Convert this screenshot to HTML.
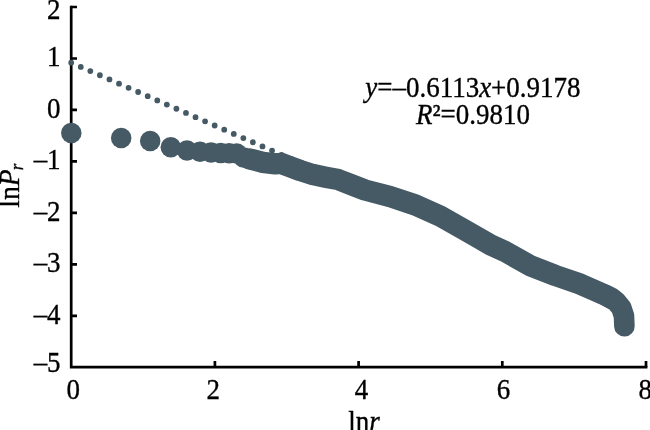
<!DOCTYPE html>
<html><head><meta charset="utf-8">
<style>
html,body{margin:0;padding:0;background:#fff;}
body{width:650px;height:430px;overflow:hidden;font-family:"Liberation Serif",serif;}
svg{display:block;will-change:transform}
text{font-family:"Liberation Serif",serif;fill:#000;stroke:#000;stroke-width:0.35px}
.i{font-style:italic}
</style></head><body>
<svg width="650" height="430" viewBox="0 0 650 430">
<rect width="650" height="430" fill="#fff"/>
<g stroke="#000" stroke-width="2.7" fill="none">
<path d="M71.2 5.7V367.2H647.4"/>
<path d="M71.2 7.0H77M71.2 58.5H77M71.2 109.9H77M71.2 161.4H77M71.2 212.8H77M71.2 264.3H77M71.2 315.8H77"/>
<path d="M214.9 367.2V361M358.6 367.2V361M502.3 367.2V361M646.0 367.2V361"/>
</g>
<line x1="71.2" y1="62.7" x2="308.3" y2="166.5" stroke="#455A64" stroke-width="5.8" stroke-linecap="round" stroke-dasharray="0 10.44"/>
<g fill="#455A64"><circle cx="71.3" cy="132.9" r="10.25"/><circle cx="121.2" cy="137.9" r="10.25"/><circle cx="150.2" cy="141" r="10.25"/><circle cx="170.8" cy="147.2" r="10.25"/><circle cx="187" cy="150.5" r="10.25"/><circle cx="200" cy="151.8" r="10.25"/><circle cx="211.1" cy="152.6" r="10.25"/><circle cx="220.7" cy="153.1" r="10.25"/><circle cx="229.2" cy="153.3" r="10.25"/><circle cx="236.7" cy="153.5" r="10.25"/><circle cx="243.6" cy="157.5" r="10.25"/><circle cx="249.8" cy="159" r="10.25"/></g>
<polyline fill="none" stroke="#455A64" stroke-width="21.4" stroke-linecap="round" stroke-linejoin="round" points="249.8,159 262.8,162.3 275.4,163.8 281,163.4 288,166 300.5,170.6 313,174.6 325.6,177.2 338.2,179.6 350.8,184.5 365,190 390.3,196.7 415.4,205 440.5,216.3 465.6,230.5 480,238.7 490.8,245 505.1,251.5 530.3,265.7 555.4,275.5 580.5,284.2 605.6,295.3 612,298.6"/>
<polyline fill="none" stroke="#455A64" stroke-width="20.6" stroke-linecap="round" stroke-linejoin="round" points="605.6,295.3 616,301.4 621.3,307.8 624.0,316 624.4,326.3"/>
<text transform="translate(60.6 18.8) scale(0.93 1)" font-size="29" text-anchor="end">2</text>
<text transform="translate(60.6 66.4) scale(0.93 1)" font-size="29" text-anchor="end">1</text>
<text transform="translate(60.6 117.9) scale(0.93 1)" font-size="29" text-anchor="end">0</text>
<text transform="translate(60.6 169.2) scale(0.93 1)" font-size="29" text-anchor="end">–1</text>
<text transform="translate(60.6 220.7) scale(0.93 1)" font-size="29" text-anchor="end">–2</text>
<text transform="translate(60.6 272.2) scale(0.93 1)" font-size="29" text-anchor="end">–3</text>
<text transform="translate(60.6 323.6) scale(0.93 1)" font-size="29" text-anchor="end">–4</text>
<text transform="translate(60.6 372.2) scale(0.93 1)" font-size="29" text-anchor="end">–5</text>
<text transform="translate(73.2 399.2) scale(0.93 1)" font-size="29" text-anchor="middle">0</text>
<text transform="translate(213.3 399.2) scale(0.93 1)" font-size="29" text-anchor="middle">2</text>
<text transform="translate(361.6 399.2) scale(0.93 1)" font-size="29" text-anchor="middle">4</text>
<text transform="translate(503.4 399.2) scale(0.93 1)" font-size="29" text-anchor="middle">6</text>
<text transform="translate(645.2 399.2) scale(0.93 1)" font-size="29" text-anchor="middle">8</text>
<text transform="translate(348.2 430.8) scale(0.93 1)" font-size="29" text-anchor="start">ln<tspan class="i">r</tspan></text>
<text transform="translate(19.1 207.8) rotate(-90) scale(0.955 1)" font-size="29">ln<tspan class="i">P</tspan></text>
<text transform="translate(23.1 170.2) rotate(-90) scale(0.93 1)" font-size="18" class="i">r</text>
<text transform="translate(365.3 97.3) scale(0.93 1)" font-size="29" text-anchor="start"><tspan class="i">y</tspan>=–0.6113<tspan class="i">x</tspan>+0.9178</text>
<text transform="translate(416 123.5) scale(0.93 1)" font-size="29" text-anchor="start"><tspan class="i">R</tspan>²=0.9810</text>
</svg>
</body></html>
